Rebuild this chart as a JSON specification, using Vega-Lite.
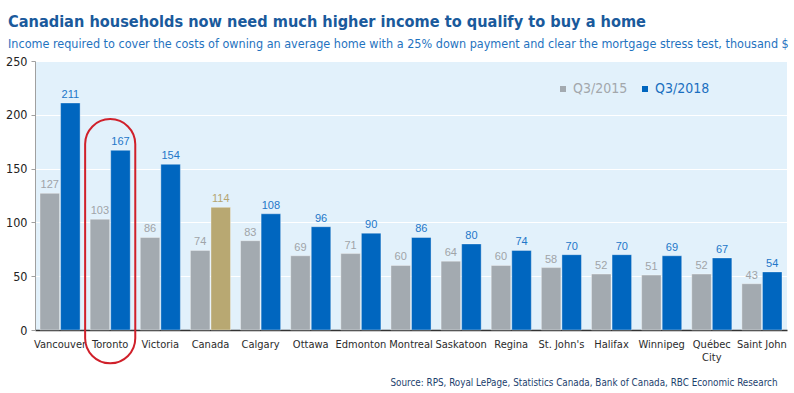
{
  "$schema": "https://vega.github.io/schema/vega-lite/v6.json",
  "width": 752,
  "height": 269,
  "autosize": {"type": "none"},
  "padding": {"left": 35, "top": 61, "right": 7, "bottom": 63},
  "background": "white",
  "config": {
    "view": {"fill": "#e2f1fb", "stroke": null},
    "font": "DejaVu Sans Condensed"
  },
  "title": {
    "text": "Canadian households now need much higher income to qualify to buy a home",
    "subtitle": "Income required to cover the costs of owning an average home with a 25% down payment and clear the mortgage stress test, thousand $",
    "anchor": "start",
    "frame": "group",
    "dx": -27,
    "offset": 5,
    "font": "DejaVu Sans Condensed",
    "fontSize": 16.2,
    "fontWeight": "bold",
    "color": "#1a5a9c",
    "subtitleFont": "DejaVu Sans Condensed",
    "subtitleFontSize": 12.5,
    "subtitleColor": "#1f73c0",
    "subtitlePadding": 7
  },
  "datasets": {
    "bars": [
      {"city": "Vancouver", "series": "Q3/2015", "key": "Q3/2015", "value": 127},
      {"city": "Vancouver", "series": "Q3/2018", "key": "Q3/2018", "value": 211},
      {"city": "Toronto", "series": "Q3/2015", "key": "Q3/2015", "value": 103},
      {"city": "Toronto", "series": "Q3/2018", "key": "Q3/2018", "value": 167},
      {"city": "Victoria", "series": "Q3/2015", "key": "Q3/2015", "value": 86},
      {"city": "Victoria", "series": "Q3/2018", "key": "Q3/2018", "value": 154},
      {"city": "Canada", "series": "Q3/2015", "key": "Q3/2015", "value": 74},
      {"city": "Canada", "series": "Q3/2018", "key": "Canada", "value": 114},
      {"city": "Calgary", "series": "Q3/2015", "key": "Q3/2015", "value": 83},
      {"city": "Calgary", "series": "Q3/2018", "key": "Q3/2018", "value": 108},
      {"city": "Ottawa", "series": "Q3/2015", "key": "Q3/2015", "value": 69},
      {"city": "Ottawa", "series": "Q3/2018", "key": "Q3/2018", "value": 96},
      {"city": "Edmonton", "series": "Q3/2015", "key": "Q3/2015", "value": 71},
      {"city": "Edmonton", "series": "Q3/2018", "key": "Q3/2018", "value": 90},
      {"city": "Montreal", "series": "Q3/2015", "key": "Q3/2015", "value": 60},
      {"city": "Montreal", "series": "Q3/2018", "key": "Q3/2018", "value": 86},
      {"city": "Saskatoon", "series": "Q3/2015", "key": "Q3/2015", "value": 64},
      {"city": "Saskatoon", "series": "Q3/2018", "key": "Q3/2018", "value": 80},
      {"city": "Regina", "series": "Q3/2015", "key": "Q3/2015", "value": 60},
      {"city": "Regina", "series": "Q3/2018", "key": "Q3/2018", "value": 74},
      {"city": "St. John's", "series": "Q3/2015", "key": "Q3/2015", "value": 58},
      {"city": "St. John's", "series": "Q3/2018", "key": "Q3/2018", "value": 70},
      {"city": "Halifax", "series": "Q3/2015", "key": "Q3/2015", "value": 52},
      {"city": "Halifax", "series": "Q3/2018", "key": "Q3/2018", "value": 70},
      {"city": "Winnipeg", "series": "Q3/2015", "key": "Q3/2015", "value": 51},
      {"city": "Winnipeg", "series": "Q3/2018", "key": "Q3/2018", "value": 69},
      {"city": "Québec City", "series": "Q3/2015", "key": "Q3/2015", "value": 52},
      {"city": "Québec City", "series": "Q3/2018", "key": "Q3/2018", "value": 67},
      {"city": "Saint John", "series": "Q3/2015", "key": "Q3/2015", "value": 43},
      {"city": "Saint John", "series": "Q3/2018", "key": "Q3/2018", "value": 54}
    ],
    "highlight": [{"city": "Toronto", "top": 196, "bottom": -31}]
  },
  "encoding": {
    "x": {
      "field": "city",
      "type": "nominal",
      "sort": ["Vancouver", "Toronto", "Victoria", "Canada", "Calgary", "Ottawa", "Edmonton", "Montreal", "Saskatoon", "Regina", "St. John's", "Halifax", "Winnipeg", "Québec City", "Saint John"],
      "scale": {"paddingInner": 0.2, "paddingOuter": 0.1},
      "axis": {
        "title": "Source: RPS, Royal LePage, Statistics Canada, Bank of Canada, RBC Economic Research",
        "titleFont": "DejaVu Sans Condensed",
        "titleFontSize": 9.8,
        "titleFontWeight": "normal",
        "titleColor": "#1d3f6e",
        "titleAnchor": "end",
        "titleAlign": "right",
        "titleBaseline": "middle",
        "titleX": 742,
        "titleY": 52,
        "labelAngle": 0,
        "labelFontSize": 11,
        "labelColor": "#2b2b2b",
        "labelPadding": 8,
        "labelExpr": "datum.value == 'Québec City' ? ['Québec', 'City'] : datum.value",
        "ticks": false,
        "domainColor": "#333333",
        "domainWidth": 1.5,
        "labelOverlap": false
      }
    }
  },
  "layer": [
    {
      "data": {"name": "bars"},
      "mark": {"type": "bar", "stroke": "#ffffff", "strokeWidth": 0.6, "strokeOpacity": 0.6},
      "encoding": {
        "xOffset": {"field": "series", "type": "nominal", "scale": {"paddingInner": 0.05}},
        "y": {
          "field": "value",
          "type": "quantitative",
          "scale": {"domain": [0, 250], "nice": false},
          "axis": {
            "title": null,
            "values": [0, 50, 100, 150, 200, 250],
            "labelFontSize": 12.5,
            "labelColor": "#222222",
            "labelPadding": 4,
            "tickSize": 4,
            "tickColor": "#a0a0a0",
            "domainColor": "#a0a0a0",
            "gridColor": "#ffffff",
            "gridWidth": 1.2
          }
        },
        "color": {
          "field": "key",
          "type": "nominal",
          "scale": {"domain": ["Q3/2015", "Q3/2018", "Canada"], "range": ["#a3aab0", "#0066bf", "#b8a872"]},
          "legend": {
            "title": null,
            "values": ["Q3/2015", "Q3/2018"],
            "orient": "none",
            "legendX": 521,
            "legendY": 21,
            "direction": "horizontal",
            "symbolType": "square",
            "symbolSize": 36,
            "symbolStrokeWidth": 0,
            "labelFontSize": 14,
            "labelFont": "DejaVu Sans Condensed",
            "labelColor": {"expr": "datum.value == 'Q3/2015' ? '#a3a7ab' : '#1a6fc0'"},
            "columnPadding": 10,
            "labelOffset": 3
          }
        }
      }
    },
    {
      "data": {"name": "bars"},
      "mark": {"type": "text", "dy": -8, "font": "Liberation Sans", "fontSize": 11},
      "encoding": {
        "xOffset": {"field": "series", "type": "nominal", "scale": {"paddingInner": 0.05}},
        "y": {"field": "value", "type": "quantitative"},
        "text": {"field": "value", "type": "quantitative"},
        "color": {
          "field": "key",
          "type": "nominal",
          "scale": {"domain": ["Q3/2015", "Q3/2018", "Canada"], "range": ["#a0a4a8", "#2277c9", "#b4a672"]},
          "legend": null
        }
      }
    },
    {
      "data": {"name": "highlight"},
      "mark": {"type": "bar", "filled": false, "stroke": "#d0202a", "strokeWidth": 2, "cornerRadius": 25, "width": {"band": 1.25}},
      "encoding": {
        "y": {"field": "top", "type": "quantitative"},
        "y2": {"field": "bottom"}
      }
    }
  ],
  "resolve": {"scale": {"color": "independent"}}
}
